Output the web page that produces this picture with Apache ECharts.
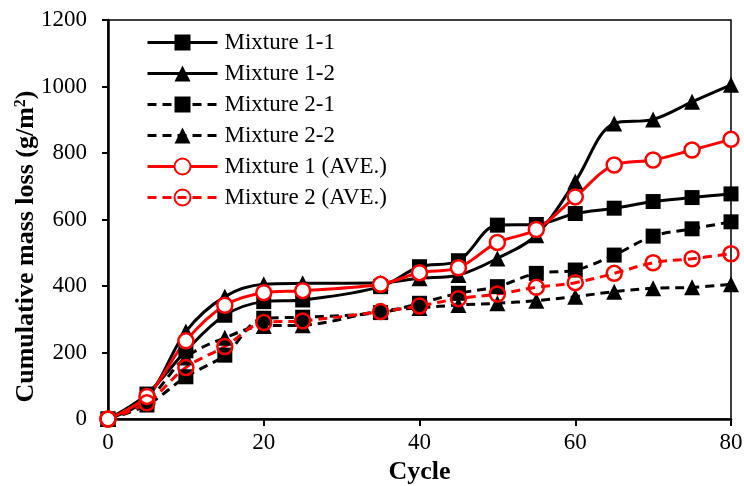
<!DOCTYPE html>
<html>
<head>
<meta charset="utf-8">
<script src="https://cdn.jsdelivr.net/npm/echarts@6/dist/echarts.min.js"></script>
<style>
  html, body { margin: 0; padding: 0; background: #fff; }
  #chart { width: 744px; height: 486px; }
</style>
</head>
<body>
<div id="chart"></div>
<script>
// Freeze-thaw cycles at which mass loss was measured
const cycles = [0, 5, 10, 15, 20, 25, 35, 40, 45, 50, 55, 60, 65, 70, 75, 80];

// Cumulative mass loss (g/m²)
const mix11 = [0, 75, 205, 312, 353, 358, 398, 458, 476, 583, 585, 618, 634, 654, 666, 677];
const mix12 = [0, 62, 263, 368, 405, 408, 410, 423, 433, 483, 553, 714, 889, 901, 954, 1005];
const mix21 = [0, 42, 127, 192, 303, 306, 320, 348, 378, 398, 438, 448, 493, 550, 572, 593];
const mix22 = [0, 56, 185, 244, 280, 282, 325, 334, 343, 348, 356, 368, 383, 393, 396, 405];
const mix1Ave = [0, 68, 235, 342, 380, 386, 405, 440, 455, 531, 570, 668, 764, 779, 809, 841];
const mix2Ave = [0, 49, 155, 218, 290, 295, 323, 340, 362, 376, 396, 410, 438, 470, 482, 497];

const seriesNames = ['Mixture 1-1', 'Mixture 1-2', 'Mixture 2-1', 'Mixture 2-2', 'Mixture 1 (AVE.)', 'Mixture 2 (AVE.)'];

const xTicks = { min: 0, max: 80, interval: 20 };
const yTicks = { min: 0, max: 1200, interval: 200 };

const FONT = '"Liberation Serif", "Times New Roman", serif';

function pairs(values) {
  return cycles.map((c, i) => [c, values[i]]);
}

function makeSeries(name, values, opts) {
  return {
    name: name,
    type: 'line',
    data: pairs(values),
    smooth: 0.35,
    clip: false,
    symbol: opts.symbol,
    symbolSize: opts.size,
    lineStyle: { color: opts.color, width: 3, type: opts.dashed ? [9, 6] : 'solid' },
    itemStyle: {
      color: opts.fill,
      borderColor: opts.color,
      borderWidth: opts.border
    },
    emphasis: { disabled: true }
  };
}

const chart = echarts.init(document.getElementById('chart'), null, { renderer: 'canvas' });

chart.setOption({
  animation: false,
  backgroundColor: '#fff',
  textStyle: { fontFamily: FONT },
  grid: {
    left: 108, right: 13, top: 20, bottom: 67,
    outerBoundsMode: 'none',
    containLabel: false,
    show: true, borderColor: '#000', borderWidth: 1.5, backgroundColor: 'transparent'
  },
  legend: {
    orient: 'vertical',
    left: 141,
    top: 26,
    itemWidth: 70,
    itemHeight: 20,
    itemGap: 8,
    data: seriesNames,
    lineStyle: { width: 3 },
    textStyle: { fontFamily: FONT, fontSize: 23, color: '#000', padding: [0, 0, 0, 2] }
  },
  xAxis: {
    type: 'value',
    min: xTicks.min, max: xTicks.max, interval: xTicks.interval,
    name: 'Cycle',
    nameLocation: 'middle',
    nameGap: 40,
    nameMoveOverlap: false,
    nameTextStyle: { fontFamily: FONT, fontSize: 26, fontWeight: 'bold', color: '#000' },
    axisLine: { lineStyle: { color: '#000', width: 2.5 } },
    axisTick: { show: true, inside: false, length: 7, lineStyle: { color: '#000', width: 2 } },
    axisLabel: { fontFamily: FONT, fontSize: 23, color: '#000', margin: 12 },
    splitLine: { show: false }
  },
  yAxis: {
    type: 'value',
    min: yTicks.min, max: yTicks.max, interval: yTicks.interval,
    name: '{t|Cumulative mass loss (g/m}{s|2}{t|)}',
    nameLocation: 'middle',
    nameGap: 69,
    nameRotate: 90,
    nameMoveOverlap: false,
    nameTextStyle: {
      padding: [0, 54, 0, 0],
      rich: {
        t: { fontFamily: FONT, fontSize: 26, fontWeight: 'bold', color: '#000' },
        s: { fontFamily: FONT, fontSize: 16, fontWeight: 'bold', color: '#000', verticalAlign: 'top', padding: [0, 0, 10, 0] }
      }
    },
    axisLine: { show: true, lineStyle: { color: '#000', width: 2.5 } },
    axisTick: { show: true, inside: false, length: 6, lineStyle: { color: '#000', width: 2 } },
    axisLabel: { fontFamily: FONT, fontSize: 23, color: '#000', margin: 21, formatter: v => String(v) },
    splitLine: { show: false }
  },
  series: [
    makeSeries(seriesNames[0], mix11, { symbol: 'rect', size: 15, color: '#000', fill: '#000', border: 0, dashed: false }),
    makeSeries(seriesNames[1], mix12, { symbol: 'triangle', size: 16, color: '#000', fill: '#000', border: 0, dashed: false }),
    makeSeries(seriesNames[2], mix21, { symbol: 'rect', size: 15, color: '#000', fill: '#000', border: 0, dashed: true }),
    makeSeries(seriesNames[3], mix22, { symbol: 'triangle', size: 16, color: '#000', fill: '#000', border: 0, dashed: true }),
    makeSeries(seriesNames[4], mix1Ave, { symbol: 'circle', size: 15, color: '#ff0000', fill: '#fff', border: 2.5, dashed: false }),
    makeSeries(seriesNames[5], mix2Ave, { symbol: 'circle', size: 15, color: '#ff0000', fill: 'rgba(255,255,255,0)', border: 2.5, dashed: true })
  ]
});
</script>
</body>
</html>
